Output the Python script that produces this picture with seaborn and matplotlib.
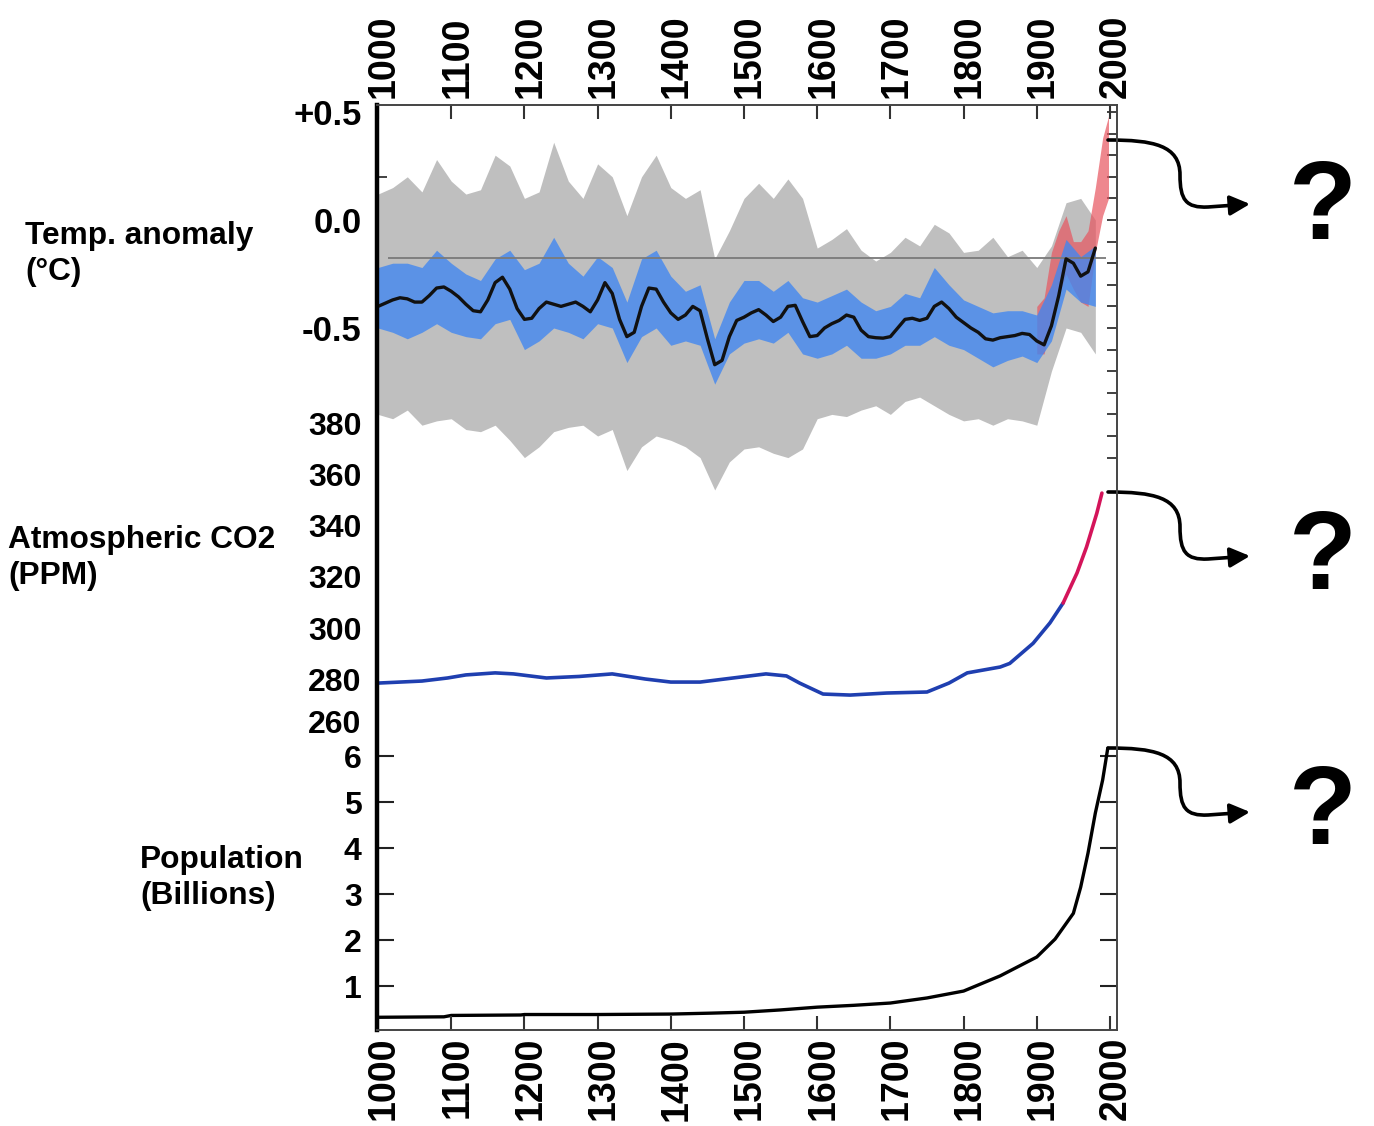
import matplotlib.pyplot as plt
import seaborn as sns
from matplotlib.path import Path
from matplotlib.patches import FancyArrowPatch
from matplotlib.transforms import ScaledTranslation

# ---- temperature reconstruction (deg C) ----
smooth_years = list(range(1000, 1990, 10))
smooth_temp = [
    -0.40, -0.385, -0.37, -0.36, -0.365, -0.38, -0.38, -0.35, -0.315, -0.31,
    -0.33, -0.356, -0.39, -0.42, -0.425, -0.37, -0.29, -0.265, -0.32, -0.41,
    -0.46, -0.455, -0.41, -0.38, -0.39, -0.40, -0.39, -0.38, -0.40, -0.425,
    -0.37, -0.29, -0.34, -0.46, -0.54, -0.52, -0.40, -0.315, -0.32, -0.38,
    -0.43, -0.46, -0.44, -0.40, -0.42, -0.55, -0.67, -0.65, -0.54, -0.465,
    -0.45, -0.43, -0.415, -0.44, -0.47, -0.45, -0.40, -0.395, -0.47, -0.54,
    -0.535, -0.50, -0.48, -0.465, -0.44, -0.45, -0.51, -0.54, -0.545, -0.547,
    -0.54, -0.50, -0.46, -0.455, -0.465, -0.455, -0.40, -0.38, -0.41, -0.45,
    -0.475, -0.50, -0.52, -0.55, -0.556, -0.545, -0.54, -0.535, -0.525, -0.53,
    -0.56, -0.578, -0.49, -0.35, -0.18, -0.20, -0.26, -0.24, -0.13,
]

band_years = list(range(1000, 2000, 20))
gray_hi = [
    0.12, 0.15, 0.20, 0.13, 0.28, 0.18, 0.12, 0.14, 0.30, 0.25,
    0.10, 0.13, 0.36, 0.18, 0.10, 0.26, 0.20, 0.02, 0.20, 0.30,
    0.15, 0.10, 0.14, -0.18, -0.05, 0.10, 0.17, 0.10, 0.19, 0.10,
    -0.13, -0.09, -0.04, -0.14, -0.19, -0.15, -0.08, -0.12, -0.02, -0.06,
    -0.15, -0.14, -0.08, -0.17, -0.14, -0.22, -0.12, 0.08, 0.10, 0.00,
]
gray_lo = [
    -0.90, -0.92, -0.88, -0.95, -0.93, -0.92, -0.97, -0.98, -0.95, -1.02,
    -1.10, -1.05, -0.98, -0.96, -0.95, -1.00, -0.97, -1.16, -1.05, -1.00,
    -1.02, -1.05, -1.10, -1.25, -1.12, -1.06, -1.05, -1.08, -1.10, -1.06,
    -0.92, -0.90, -0.91, -0.88, -0.86, -0.90, -0.84, -0.82, -0.86, -0.90,
    -0.93, -0.92, -0.95, -0.92, -0.93, -0.95, -0.70, -0.50, -0.52, -0.62,
]
blue_hi = [
    -0.22, -0.20, -0.20, -0.22, -0.14, -0.20, -0.25, -0.28, -0.18, -0.14,
    -0.23, -0.20, -0.08, -0.20, -0.26, -0.17, -0.22, -0.38, -0.18, -0.14,
    -0.26, -0.33, -0.30, -0.55, -0.38, -0.28, -0.28, -0.33, -0.28, -0.36,
    -0.38, -0.35, -0.32, -0.38, -0.42, -0.40, -0.34, -0.36, -0.22, -0.30,
    -0.37, -0.40, -0.43, -0.42, -0.42, -0.44, -0.30, -0.09, -0.17, -0.12,
]
blue_lo = [
    -0.50, -0.52, -0.55, -0.52, -0.48, -0.52, -0.54, -0.55, -0.48, -0.46,
    -0.60, -0.56, -0.50, -0.52, -0.55, -0.48, -0.50, -0.66, -0.54, -0.50,
    -0.58, -0.56, -0.58, -0.76, -0.62, -0.57, -0.55, -0.57, -0.52, -0.62,
    -0.64, -0.62, -0.58, -0.64, -0.64, -0.62, -0.58, -0.58, -0.54, -0.58,
    -0.60, -0.64, -0.68, -0.65, -0.63, -0.66, -0.56, -0.32, -0.38, -0.40,
]

# instrumental record
red_years = [1900, 1910, 1920, 1930, 1940, 1950, 1960, 1970, 1980, 1990, 1998]
red_hi = [-0.40, -0.36, -0.15, -0.05, 0.02, -0.10, -0.10, -0.05, 0.15, 0.38, 0.48]
red_lo = [-0.62, -0.62, -0.45, -0.35, -0.25, -0.32, -0.38, -0.40, -0.15, 0.02, 0.10]

ref_level = -0.175
ref_span = (1013, 1995)

# ---- CO2 (ppm) ----
co2_core_years = [1000, 1060, 1095, 1120, 1160, 1185, 1230, 1275, 1320, 1365, 1400,
                  1440, 1485, 1530, 1558, 1576, 1608, 1645, 1695, 1750, 1780, 1805,
                  1850, 1863, 1895, 1918, 1936]
co2_core_ppm = [278.4, 279.2, 280.4, 281.6, 282.4, 282.0, 280.4, 281.0, 282.0, 280.0, 278.8,
                278.8, 280.4, 282.0, 281.2, 278.4, 274.1, 273.7, 274.5, 274.9, 278.4, 282.4,
                284.7, 286.1, 294.0, 302.0, 309.8]
co2_direct_years = [1936, 1955, 1968, 1982, 1989]
co2_direct_ppm = [309.8, 321.6, 331.8, 345.0, 352.9]

# ---- population (billions) ----
pop_years = [1000, 1090, 1100, 1195, 1200, 1300, 1400, 1455, 1500, 1550, 1600, 1650,
             1700, 1750, 1800, 1850, 1900, 1925, 1950, 1960, 1970, 1980, 1990, 1997]
pop_bn = [0.32, 0.33, 0.36, 0.37, 0.38, 0.38, 0.39, 0.41, 0.43, 0.48, 0.54, 0.58,
          0.63, 0.74, 0.89, 1.22, 1.63, 2.02, 2.58, 3.15, 3.89, 4.76, 5.48, 6.17]

year_ticks = list(range(1000, 2001, 100))
temp_labels = ['+0.5', '0.0', '-0.5']
co2_labels = [260, 280, 300, 320, 340, 360, 380]
pop_labels = [1, 2, 3, 4, 5, 6]

sns.set_style("white")
plt.rcParams['font.family'] = ['Liberation Sans', 'DejaVu Sans']
plt.rcParams['font.weight'] = 'bold'
for key in ('text.color', 'axes.labelcolor', 'xtick.color', 'ytick.color'):
    plt.rcParams[key] = 'black'

W, H = 1374, 1126
fig = plt.figure(figsize=(W / 100, H / 100), dpi=100)


def box(left, top, right, bottom):
    return [left / W, 1 - bottom / H, (right - left) / W, (bottom - top) / H]


XLIM = (998.6, 2009.6)
L, R = 377, 1117

# overlay panels (transparent, no spines)
ax_t = fig.add_axes(box(L, 105, R, 500))
ax_c = fig.add_axes(box(L, 400, R, 740))
ax_p = fig.add_axes(box(L, 740, R, 1030))
for ax in (ax_t, ax_c, ax_p):
    ax.patch.set_visible(False)
    for s in ax.spines.values():
        s.set_visible(False)
    ax.set_xlim(XLIM)
    ax.set_xticks([])

# temperature
ax_t.set_ylim(-1.2963, 0.5324)
ax_t.fill_between(band_years, gray_lo, gray_hi, color='#bfbfbf', lw=0)
ax_t.fill_between(red_years, red_lo, red_hi, color='#e8545e', alpha=0.7, lw=0)
ax_t.fill_between(band_years, blue_lo, blue_hi, color='#3f86f2', alpha=0.78, lw=0)
ax_t.hlines(ref_level, *ref_span, color='#7a7a7a', lw=1.3)
sns.lineplot(x=smooth_years, y=smooth_temp, ax=ax_t, color='#111111', linewidth=2.4)
ax_t.set_yticks([0.5, 0.0, -0.5], temp_labels)
ax_t.set_yticks([0.2, 0.1, 0.0, -0.1, -0.2, -0.3, -0.4, -0.5, -0.6, -0.7, -0.8, -0.9], minor=True)
ax_t.tick_params(axis='y', which='major', length=0, pad=11, labelsize=25)
ax_t.tick_params(axis='y', which='minor', left=True, direction='in', length=7, width=1.3, color='#333333')
sec = ax_t.secondary_yaxis('right')
sec.set_yticks([0.5, 0.4, 0.3, 0.2, 0.1, 0.0, -0.1, -0.2, -0.3, -0.4, -0.5, -0.6,
                -0.7, -0.8, -0.9, -1.0, -1.1])
sec.tick_params(direction='in', length=7, width=1.3, color='#333333', labelright=False)
sec.spines['right'].set_visible(False)
ax_t.set_ylabel('')

# CO2
ax_c.set_ylim(256.08, 389.41)
sns.lineplot(x=co2_core_years, y=co2_core_ppm, ax=ax_c, color='#1f3fb0', linewidth=2.6)
sns.lineplot(x=co2_direct_years, y=co2_direct_ppm, ax=ax_c, color='#d4145a', linewidth=2.6)
ax_c.set_yticks(co2_labels, [str(v) for v in co2_labels])
ax_c.set_yticks([260, 280, 300, 320, 340], minor=True)
ax_c.tick_params(axis='y', which='major', length=0, pad=11, labelsize=23)
ax_c.tick_params(axis='y', which='minor', left=True, right=True, direction='in',
                 length=12, width=1.5, color='#222222')
ax_c.set_ylabel('')
# the 260 label sits a little higher in the original
lift = ScaledTranslation(0, 9 / 100, fig.dpi_scale_trans)
lab260 = ax_c.yaxis.get_major_ticks()[0].label1
lab260.set_transform(lab260.get_transform() + lift)

# population
ax_p.set_ylim(0.0435, 6.348)
sns.lineplot(x=pop_years, y=pop_bn, ax=ax_p, color='black', linewidth=2.4)
ax_p.set_yticks(pop_labels, [str(v) for v in pop_labels])
ax_p.tick_params(axis='y', which='major', left=True, right=True, direction='in',
                 length=12, width=1.5, color='#222222', pad=11, labelsize=23)
ax_p.set_ylabel('')

# frame with the year axis on top and bottom
fr = fig.add_axes(box(L, 105, R, 1030), zorder=5)
fr.patch.set_visible(False)
fr.set_xlim(XLIM)
fr.set_ylim(0, 1)
fr.set_yticks([])
fr.set_xticks(year_ticks, [str(y) for y in year_ticks])
fr.tick_params(axis='x', top=True, bottom=True, labeltop=True, labelbottom=True,
               direction='in', length=10, width=1.5, color='#333333',
               labelsize=27, labelrotation=90, pad=5)
fr.spines['left'].set_linewidth(3.2)
fr.spines['left'].set_color('black')
for side in ('top', 'bottom', 'right'):
    fr.spines[side].set_linewidth(1.4)
    fr.spines[side].set_color('#444444')
shift = ScaledTranslation(6 / 100, 0, fig.dpi_scale_trans)
for t in fr.xaxis.get_major_ticks():
    t.label1.set_transform(t.label1.get_transform() + shift)
    t.label2.set_transform(t.label2.get_transform() + shift)

# side labels
fig.text(25 / W, 1 - 254 / H, 'Temp. anomaly\n(°C)', fontsize=22.8, ha='left', va='center',
         linespacing=1.22)
fig.text(8 / W, 1 - 558 / H, 'Atmospheric CO2\n(PPM)', fontsize=22.8, ha='left', va='center',
         linespacing=1.22)
fig.text(140 / W, 1 - 878 / H, 'Population\n(Billions)', fontsize=22.8, ha='left', va='center',
         linespacing=1.22)


def curved_arrow(sx, sy):
    pts = [(0, 0), (45, 0), (72, 5), (72, 35), (72, 60), (78, 68), (100, 67), (142, 64)]
    codes = [Path.MOVETO, Path.CURVE4, Path.CURVE4, Path.CURVE4,
             Path.CURVE4, Path.CURVE4, Path.CURVE4, Path.LINETO]
    verts = [((sx + dx) / W, 1 - (sy + dy) / H) for dx, dy in pts]
    arr = FancyArrowPatch(path=Path(verts, codes), transform=fig.transFigure,
                          arrowstyle='-|>,head_length=0.6,head_width=0.3',
                          mutation_scale=20, lw=2.6, color='black',
                          shrinkA=0, shrinkB=0)
    fig.add_artist(arr)


for sy, qy in [(140, 210), (492, 560), (748, 815)]:
    curved_arrow(1108, sy)
    fig.text(1323 / W, 1 - qy / H, '?', fontsize=80, ha='center', va='center')

plt.savefig('out.png', dpi=100)
